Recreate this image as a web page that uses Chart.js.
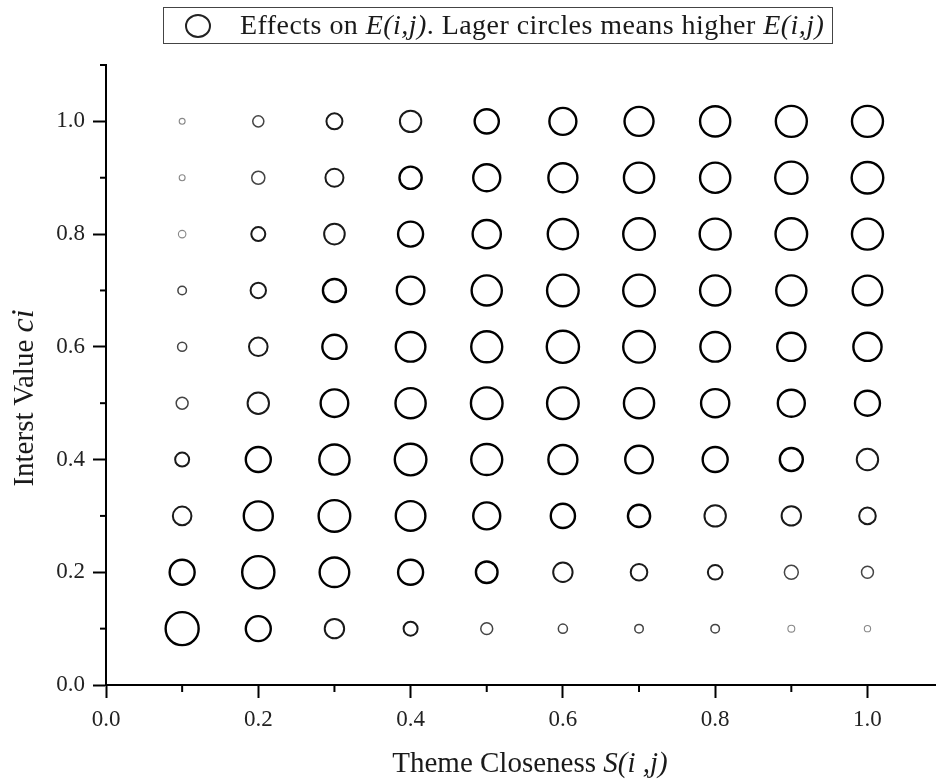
<!DOCTYPE html>
<html>
<head>
<meta charset="utf-8">
<script src="https://cdn.jsdelivr.net/npm/chart.js@4.4.0/dist/chart.umd.min.js"></script>
<style>
  html, body { margin: 0; padding: 0; background: #fff; }
  #wrap { position: relative; width: 936px; height: 783px; font-family: "Liberation Serif", "DejaVu Serif", serif; color: #1a1a1a; }
  #wrap canvas { position: absolute; left: 0; top: 0; }
  #legend { position: absolute; left: 163px; top: 7px; width: 670px; height: 37px; box-sizing: border-box; border: 1.5px solid #444; }
  #legend .sym { position: absolute; left: 21px; top: 6px; width: 26px; height: 24px; box-sizing: border-box; border: 2px solid #222; border-radius: 50%; }
  #legend .txt { position: absolute; left: 76px; top: 2px; font-size: 28px; line-height: 30px; letter-spacing: 0.45px; white-space: nowrap; }
  #xtitle { position: absolute; left: 330px; top: 745px; width: 400px; text-align: center; font-size: 29px; line-height: 34px; white-space: nowrap; }
  #ytitle { position: absolute; left: -128px; top: 381px; width: 300px; height: 34px; text-align: center; font-size: 29px; line-height: 34px; white-space: nowrap; transform: rotate(-90deg); }
  #ytitle i { font-size: 32px; }
</style>
</head>
<body>
<div id="wrap">
  <canvas id="myChart" width="936" height="783"></canvas>
  <div id="legend"><span class="sym"></span><span class="txt">Effects on <i>E(i,j)</i>. Lager circles means higher <i>E(i,j)</i></span></div>
  <div id="xtitle">Theme Closeness <i>S(i ,j)</i></div>
  <div id="ytitle">Interst Value <i>ci</i></div>
</div>
<script>
// theme closeness S(i,j) on x, interest value ci on y
let xValues = [0.1, 0.2, 0.3, 0.4, 0.5, 0.6, 0.7, 0.8, 0.9, 1.0];
let yValues = [0.1, 0.2, 0.3, 0.4, 0.5, 0.6, 0.7, 0.8, 0.9, 1.0];

let effectRows = [
    [17.7, 13.7, 10.7, 8.0, 6.7, 5.3, 5.0, 5.0, 4.0, 3.7],
    [13.7, 17.3, 16.0, 13.7, 12.0, 10.7, 9.3, 8.3, 7.7, 6.7],
    [10.3, 15.7, 17.0, 16.0, 14.7, 13.3, 12.3, 11.7, 10.7, 9.3],
    [8.0, 13.7, 16.3, 17.0, 16.7, 15.7, 15.0, 13.7, 12.7, 11.7],
    [6.7, 11.7, 15.0, 16.3, 17.0, 17.0, 16.3, 15.3, 14.7, 13.7],
    [5.3, 10.3, 13.3, 16.0, 16.7, 17.3, 17.0, 16.0, 15.3, 15.3],
    [5.0, 8.7, 12.7, 15.0, 16.3, 17.0, 17.0, 16.3, 16.3, 16.0],
    [4.3, 8.0, 11.3, 13.7, 15.3, 16.3, 17.0, 16.7, 17.0, 16.7],
    [3.5, 7.3, 10.0, 12.3, 14.7, 15.7, 16.3, 16.3, 17.3, 17.0],
    [3.5, 6.3, 9.0, 11.7, 13.3, 14.7, 15.7, 16.3, 16.7, 16.7]
];

let xTicks = [0, 0.2, 0.4, 0.6, 0.8, 1.0];
let yTicks = [0, 0.2, 0.4, 0.6, 0.8, 1.0];
let xMinor = [0.1, 0.3, 0.5, 0.7, 0.9];
let yMinor = [0.1, 0.3, 0.5, 0.7, 0.9, 1.1];

function strokeFor(e){
    if (e < 5) return 1.1;
    if (e < 8) return 1.5;
    if (e < 12) return 2;
    return 2.4;
}
function colorFor(e){
    if (e < 5) return "#888";
    if (e < 8) return "#444";
    if (e < 12) return "#1a1a1a";
    return "#000";
}

function buildPoints(){
    var pts = [];
    for (var i=0; i<yValues.length; i++){
        for (var j=0; j<xValues.length; j++){
            var e = effectRows[i][j];
            pts.push({x: xValues[j], y: yValues[i], e: e, r: e - strokeFor(e)/2});
        }
    }
    return pts;
}

// short ticks between the labelled ones
let minorTicks = {
    id: "minorTicks",
    afterDraw: function(chart){
        var ctx = chart.ctx, xs = chart.scales.x, ys = chart.scales.y;
        ctx.save();
        ctx.strokeStyle = "#000";
        ctx.lineWidth = 2;
        xMinor.forEach(function(v){
            var px = xs.getPixelForValue(v);
            ctx.beginPath(); ctx.moveTo(px, xs.top); ctx.lineTo(px, xs.top + 7); ctx.stroke();
        });
        yMinor.forEach(function(v){
            var py = ys.getPixelForValue(v);
            ctx.beginPath(); ctx.moveTo(ys.right, py); ctx.lineTo(ys.right - 6, py); ctx.stroke();
        });
        ctx.restore();
    }
};

function axis(min, max, tickList, isX){
    return {
        type: "linear",
        min: min,
        max: max,
        afterBuildTicks: function(s){ s.ticks = tickList.map(function(v){ return {value: v}; }); },
        afterFit: function(s){ if (isX) s.height = 98; else s.width = 106; },
        ticks: {
            autoSkip: false,
            maxRotation: 0,
            padding: isX ? 8 : 8,
            color: "#222",
            font: {family: "Liberation Serif", size: 23},
            callback: function(v){ return Number(v).toFixed(1); }
        },
        grid: {drawOnChartArea: false, drawTicks: true, tickLength: 13, tickWidth: 2, tickColor: "#000"},
        border: {display: true, width: 2, color: "#000"}
    };
}

function main(){
    var ctx = document.getElementById("myChart").getContext("2d");
    new Chart(ctx, {
        type: "bubble",
        data: {
            datasets: [{
                data: buildPoints(),
                backgroundColor: "rgba(0,0,0,0)",
                borderColor: function(c){ return colorFor(c.raw.e); },
                borderWidth: function(c){ return strokeFor(c.raw.e); }
            }]
        },
        options: {
            responsive: false,
            animation: false,
            devicePixelRatio: 1,
            layout: {autoPadding: false, padding: {top: 65, left: 0, right: 0, bottom: 0}},
            plugins: {legend: {display: false}, tooltip: {enabled: false}},
            scales: {
                x: axis(0, 1.09, xTicks, true),
                y: axis(0, 1.1, yTicks, false)
            }
        },
        plugins: [minorTicks]
    });
}

document.addEventListener("DOMContentLoaded", function(){
    main();
});
</script>
</body>
</html>
